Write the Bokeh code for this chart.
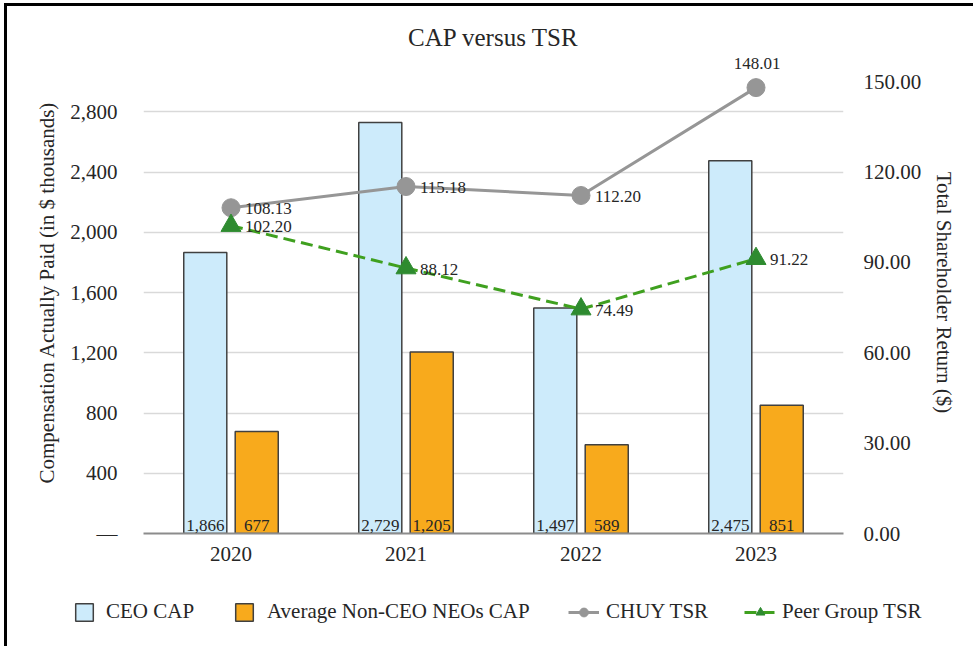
from bokeh.plotting import figure
from bokeh.layouts import column, row
from bokeh.models import (ColumnDataSource, Range1d, LinearAxis, FixedTicker,
                          NumeralTickFormatter, PrintfTickFormatter, LabelSet,
                          Legend, LegendItem)
from bokeh.transform import dodge
from bokeh.embed import file_html
from bokeh.resources import INLINE

# ---- data ----
years = ["2020", "2021", "2022", "2023"]
ceo_cap = [1866, 2729, 1497, 2475]
neo_cap = [677, 1205, 589, 851]
chuy_tsr = [108.13, 115.18, 112.20, 148.01]
peer_tsr = [102.20, 88.12, 74.49, 91.22]
left_ticks = [0, 400, 800, 1200, 1600, 2000, 2400, 2800]
right_ticks = [0, 30, 60, 90, 120, 150]
series_names = ["CEO CAP", "Average Non-CEO NEOs CAP", "CHUY TSR", "Peer Group TSR"]

FONT = "Liberation Serif"
TXT = "#262626"
CEO_COLOR = "#CDEBFB"
NEO_COLOR = "#F8AA1C"
BAR_LINE = "#404040"
CHUY_COLOR = "#969696"
PEER_LINE = "#3FA01F"
PEER_MARK = "#2E8B30"

src = ColumnDataSource(dict(
    year=years, ceo=ceo_cap, neo=neo_cap,
    ceo_lbl=[f"{v:,}" for v in ceo_cap],
    neo_lbl=[f"{v:,}" for v in neo_cap],
    chuy=chuy_tsr, peer=peer_tsr,
    chuy_lbl=[f"{v:.2f}" for v in chuy_tsr],
    peer_lbl=[f"{v:.2f}" for v in peer_tsr],
))

W_FIG = 966
p = figure(x_range=years, y_range=Range1d(0, 3200), width=W_FIG, height=580,
           output_backend="svg", toolbar_location=None,
           min_border_left=136, min_border_right=130,
           min_border_top=45, min_border_bottom=53)
p.extra_y_ranges = {"tsr": Range1d(0, 160)}

p.title.text = "CAP versus TSR"
p.title.align = "center"
p.title.text_font = FONT
p.title.text_font_size = "25px"
p.title.text_font_style = "normal"
p.title.text_color = TXT
p.title.standoff = 2

p.outline_line_color = None
p.xgrid.visible = False
p.ygrid.grid_line_color = "#D9D9D9"
p.ygrid.grid_line_width = 1.5

# left axis
la = p.yaxis[0]
la.ticker = FixedTicker(ticks=left_ticks)
la.formatter = NumeralTickFormatter(format="0,0")
la.major_label_overrides = {0: "\u2014"}
la.axis_label = "Compensation Actually Paid (in $ thousands)"
la.axis_line_color = None
la.major_tick_line_color = None
la.minor_tick_line_color = None
la.major_tick_out = 0
la.major_tick_in = 0
la.major_label_standoff = 26
la.axis_label_standoff = 8
la.major_label_text_font = FONT
la.major_label_text_font_size = "21px"
la.major_label_text_color = TXT
la.axis_label_text_font = FONT
la.axis_label_text_font_size = "21px"
la.axis_label_text_font_style = "normal"
la.axis_label_text_color = TXT

# right axis
ra = LinearAxis(y_range_name="tsr", ticker=FixedTicker(ticks=right_ticks),
                formatter=PrintfTickFormatter(format="%.2f"),
                axis_label="Total Shareholder Return ($)")
ra.axis_line_color = None
ra.major_tick_line_color = None
ra.minor_tick_line_color = None
ra.major_tick_out = 0
ra.major_tick_in = 0
ra.major_label_standoff = 20
ra.axis_label_standoff = 8
ra.major_label_text_font = FONT
ra.major_label_text_font_size = "21px"
ra.major_label_text_color = TXT
ra.axis_label_text_font = FONT
ra.axis_label_text_font_size = "21px"
ra.axis_label_text_font_style = "normal"
ra.axis_label_text_color = TXT
p.add_layout(ra, "right")

# x axis
xa = p.xaxis[0]
xa.axis_line_color = "#8C8C8C"
xa.axis_line_width = 2
xa.major_tick_line_color = None
xa.minor_tick_line_color = None
xa.major_tick_out = 0
xa.major_tick_in = 0
xa.major_label_standoff = 13
xa.major_label_text_font = FONT
xa.major_label_text_font_size = "21px"
xa.major_label_text_color = TXT

# bars
OFF = 0.147
W = 0.246
BAR_CEO = dict(fill_color=CEO_COLOR, line_color=BAR_LINE, line_width=1.5)
BAR_NEO = dict(fill_color=NEO_COLOR, line_color=BAR_LINE, line_width=1.5)
p.vbar(x=dodge("year", -OFF, range=p.x_range), top="ceo", width=W, source=src, **BAR_CEO)
p.vbar(x=dodge("year", OFF, range=p.x_range), top="neo", width=W, source=src, **BAR_NEO)

for col, off in (("ceo_lbl", -OFF), ("neo_lbl", OFF)):
    p.add_layout(LabelSet(x=dodge("year", off, range=p.x_range), y=0, text=col,
                          source=src, text_align="center", text_baseline="bottom",
                          y_offset=3, text_font=FONT, text_font_size="17px",
                          text_color=TXT))

# lines
LINE_CHUY = dict(line_color=CHUY_COLOR, line_width=3)
MARK_CHUY = dict(marker="circle", size=18, fill_color=CHUY_COLOR, line_color=CHUY_COLOR)
LINE_PEER = dict(line_color=PEER_LINE, line_width=3, line_dash="12 6")
MARK_PEER = dict(marker="triangle", size=20, fill_color=PEER_MARK, line_color=PEER_MARK)
p.line("year", "chuy", source=src, y_range_name="tsr", **LINE_CHUY)
p.scatter("year", "chuy", source=src, y_range_name="tsr", **MARK_CHUY)
p.line("year", "peer", source=src, y_range_name="tsr", **LINE_PEER)
p.scatter("year", "peer", source=src, y_range_name="tsr", **MARK_PEER)

src_a = ColumnDataSource(dict(year=years[:3], v=chuy_tsr[:3],
                              t=[f"{v:.2f}" for v in chuy_tsr[:3]]))
src_b = ColumnDataSource(dict(year=years[3:], v=chuy_tsr[3:],
                              t=[f"{v:.2f}" for v in chuy_tsr[3:]]))
p.add_layout(LabelSet(x="year", y="v", text="t", source=src_a, y_range_name="tsr",
                      x_offset=14, y_offset=-1, text_align="left",
                      text_baseline="middle", text_font=FONT,
                      text_font_size="17px", text_color=TXT))
p.add_layout(LabelSet(x="year", y="v", text="t", source=src_b, y_range_name="tsr",
                      x_offset=1, y_offset=24, text_align="center",
                      text_baseline="middle", text_font=FONT,
                      text_font_size="17px", text_color=TXT))
p.add_layout(LabelSet(x="year", y="peer", text="peer_lbl", source=src,
                      y_range_name="tsr", x_offset=14, y_offset=-1,
                      text_align="left", text_baseline="middle", text_font=FONT,
                      text_font_size="17px", text_color=TXT))

# ---- legend strip (separate figure below the chart; its renderers are hidden) ----
pl = figure(width=W_FIG, height=60, output_backend="svg", toolbar_location=None,
            x_axis_location=None, y_axis_location=None,
            min_border_left=0, min_border_right=0, min_border_top=0,
            min_border_bottom=0, x_range=years, y_range=Range1d(-2, -1))
pl.outline_line_color = None
pl.grid.visible = False
r_ceo = pl.vbar(x="year", top="ceo", width=W, source=src, visible=False, **BAR_CEO)
r_neo = pl.vbar(x="year", top="neo", width=W, source=src, visible=False, **BAR_NEO)
r_cl = pl.line("year", "chuy", source=src, visible=False, **LINE_CHUY)
r_cm = pl.scatter("year", "chuy", source=src, visible=False, **MARK_CHUY)
r_pl = pl.line("year", "peer", source=src, visible=False, **LINE_PEER)
r_pm = pl.scatter("year", "peer", source=src, visible=False, **MARK_PEER)

def add_legend(label, renderers, loc, gw, standoff):
    lg = Legend(items=[LegendItem(label=label, renderers=renderers)],
                location=loc, orientation="horizontal", glyph_width=gw,
                glyph_height=22, label_standoff=standoff, padding=0, margin=0,
                spacing=0, border_line_alpha=0, background_fill_alpha=0,
                label_text_font=FONT, label_text_font_size="21px",
                label_text_color=TXT, label_text_baseline="middle",
                click_policy="none")
    pl.add_layout(lg, "center")

add_legend(series_names[0], [r_ceo], (66, 22), 22, 11)
add_legend(series_names[1], [r_neo], (226, 22), 22, 12)
add_legend(series_names[2], [r_cl, r_cm], (561, 22), 31, 7)
add_legend(series_names[3], [r_pl, r_pm], (737, 22), 32, 6)

layout = column(p, row(pl, spacing=0), spacing=0,
                styles={"border-top": "3px solid #000", "border-left": "3px solid #000",
                        "margin-left": "4px", "margin-top": "3px"})

open("out.html", "w").write(file_html(layout, INLINE))
